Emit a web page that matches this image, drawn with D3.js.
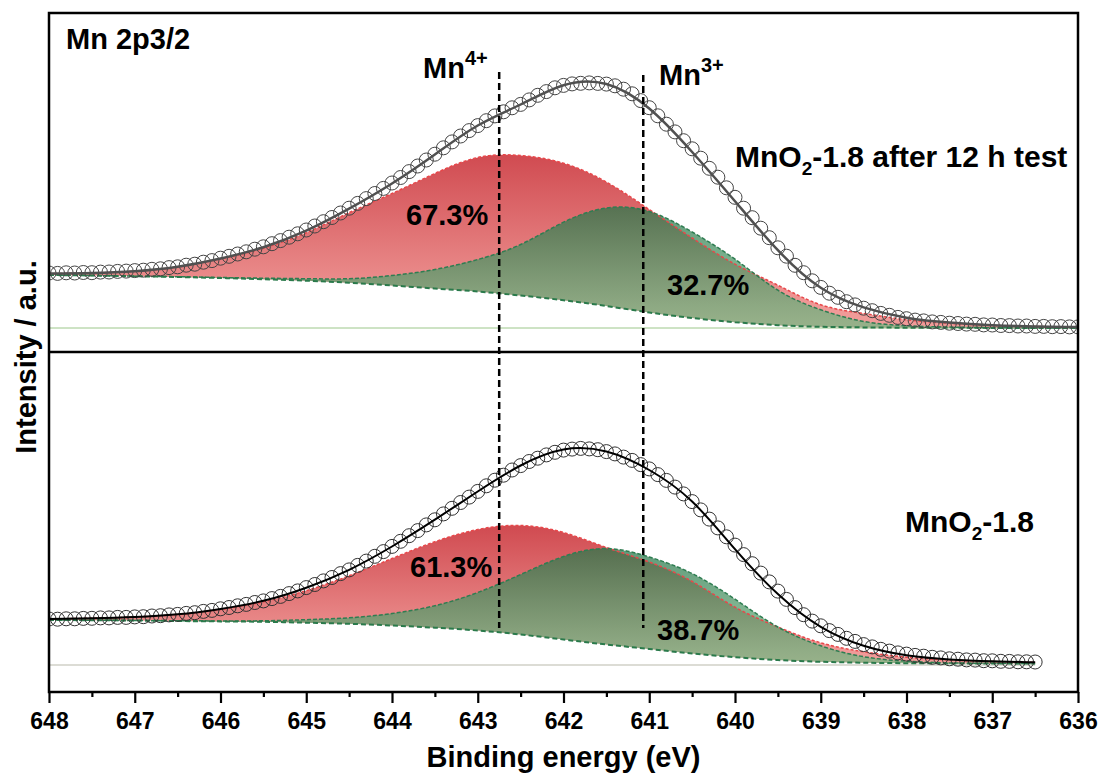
<!DOCTYPE html>
<html>
<head>
<meta charset="utf-8">
<script src="https://cdn.jsdelivr.net/npm/d3@7"></script>
<style>
body { margin: 0; background: #fff; }
text { font-family: "Liberation Sans", Arial, sans-serif; font-weight: bold; fill: #000; }
</style>
</head>
<body>
<svg id="chart" width="1102" height="776"></svg>
<script>
// fit grid (eV), every 0.5 eV
const fitEnergy = [648, 647.5, 647, 646.5, 646, 645.5, 645, 644.5, 644, 643.5, 643, 642.5,
    642, 641.5, 641, 640.5, 640, 639.5, 639, 638.5, 638, 637.5, 637, 636.5, 636];

// top panel: MnO2-1.8 after 12 h test
const bgTop = [53, 52.5, 51.8, 51, 50, 48.8, 47.3, 45.3, 42.5, 39.5, 36.5, 32.5,
    27.8, 22, 15.5, 10, 5.8, 2.8, 1.2, 0.6, 0.3, 0.2, 0.1, 0, 0];
const mn4Top = [1.5, 2.5, 5, 10, 19, 31, 48, 70, 92, 115, 134, 140,
    137, 124, 103, 80, 58, 40, 22, 14, 8, 4.5, 2.5, 1.5, 1];
const mn3Top = [0, 0, 0, 0.3, 0.5, 1, 2, 4, 10, 19, 32, 51,
    78, 98, 101, 86, 63, 35, 17, 6, 2, 0.7, 0.2, 0, 0];
// measured points, 648 -> 636 eV, step 0.1
const dataTop = [
    55, 54.6, 55.2, 55, 55.5, 55.3, 55.9, 56, 56.6, 56.9,
    57.4, 57.8, 58.7, 59.2, 60.4, 61.2, 62.8, 63.8, 65.8, 67.4,
    69.8, 71.7, 74, 76.2, 78.8, 81.2, 84.3, 87.4, 90.8, 94.2,
    98, 102, 106.3, 110.5, 115, 119.8, 124.6, 129.4, 134.5, 139.6,
    145, 150.5, 156.4, 162, 168, 173.8, 180.2, 186.1, 192, 197.4,
    202.4, 207.3, 212.1, 216.2, 220.2, 223.6, 228.1, 232.7, 236.4, 240.2,
    242.6, 244.1, 244.7, 245.1, 244.6, 243.9, 242.2, 238.8, 234.2, 227.4,
    220.3, 212.2, 203.8, 196.1, 187.3, 179.2, 169.8, 159.7, 150.8, 140.2,
    130.7, 119.8, 110.3, 99.8, 90.3, 80.2, 71.8, 62.7, 55.3, 47.2,
    40.6, 34.8, 30.7, 26.3, 23.1, 19.8, 17.3, 14.6, 12.7, 10.6,
    9.3, 7.9, 7.1, 6.1, 5.6, 4.8, 4.5, 3.9, 3.7, 3.1,
    3, 2.5, 2.4, 2, 2, 1.6, 1.6, 1.3, 1.4, 1.1,
    1.1];

// bottom panel: MnO2-1.8
const bgBot = [45, 44.8, 44.5, 44, 43.6, 43.2, 42.3, 41.2, 39.5, 37.3, 34.5, 30.5,
    25.5, 20.5, 16, 11.5, 7.8, 5, 3.2, 2.3, 1.8, 1.6, 1.5, 1.5];
const mn4Bot = [1, 2, 3.5, 6.5, 12, 20, 32, 48, 67, 86, 101, 109,
    107, 97, 87, 72, 50, 33, 19, 11, 6, 3.5, 2, 1.2];
const mn3Bot = [0, 0, 0, 0.2, 0.5, 1, 3, 6, 12, 22, 38, 60,
    83, 96, 92, 80, 58, 33, 16, 6, 2, 0.5, 0.2, 0];
// measured points, 648 -> 636.5 eV, step 0.1
const dataBot = [
    46, 45.8, 46.2, 46.2, 46.6, 46.7, 47.1, 47.1, 47.6, 47.6,
    48.1, 48.3, 49, 49.3, 50.1, 50.6, 51.6, 52.3, 53.6, 54.6,
    56.2, 57.5, 59.2, 60.6, 62.5, 64.1, 66.4, 68.6, 71.4, 74.1,
    77.4, 80.5, 84.1, 87.5, 91.4, 95.1, 99.6, 103.9, 108.7, 113.4,
    118.6, 123.7, 129.3, 134.4, 140.1, 145.2, 151.1, 156.7, 162.5, 167.9,
    173.6, 179.2, 184.8, 189.8, 195, 199.4, 203.5, 206.8, 210.1, 212.7,
    214.9, 215.9, 216.6, 216.1, 215.3, 213.4, 211.1, 207.9, 204.6, 200.4,
    196.1, 190.4, 184.6, 177.9, 171.1, 163.4, 155.1, 145.9, 137.1, 128.2,
    119.9, 110.4, 101.3, 91.9, 83.1, 73.9, 65.6, 57.4, 50.3, 43.9,
    39.2, 34.4, 30.6, 26.7, 23.6, 20.4, 18.1, 15.7, 13.9, 12.1,
    10.9, 9.6, 8.8, 7.7, 7.1, 6.2, 5.8, 5.1, 4.9, 4.3,
    4.2, 3.7, 3.6, 3.2, 3.2, 3];

const peakLines = [
    {name: "Mn", sup: "4+", energy: 642.75},
    {name: "Mn", sup: "3+", energy: 641.07}
];
const xTicks = [648, 647, 646, 645, 644, 643, 642, 641, 640, 639, 638, 637, 636];

const svg = d3.select("#chart");
const frameL = 49, frameR = 1078, frameT = 13, frameB = 692, divider = 352;

const x = d3.scaleLinear().domain([648, 636]).range([frameL, frameR]);

const panels = [
    {
        id: "top", data: dataTop, bg: bgTop, mn4: mn4Top, mn3: mn3Top,
        y: d3.scaleLinear().domain([0, 300]).range([328, 28]),
        baseColor: "#9cc78a", envColor: "#505050", circleColor: "#444", envWidth: 2.5,
        label: "-1.8 after 12 h test", labelX: 735, labelY: 167,
        pct4: "67.3%", pct4X: 406, pct4Y: 225, pct3: "32.7%", pct3X: 667, pct3Y: 295,
        redGrad: [175, 20], greenGrad: [122, 5]
    },
    {
        id: "bot", data: dataBot, bg: bgBot, mn4: mn4Bot, mn3: mn3Bot,
        y: d3.scaleLinear().domain([0, 300]).range([665, 365]),
        baseColor: "#b9b9ab", envColor: "#000", circleColor: "#333", envWidth: 2,
        label: "-1.8", labelX: 905, labelY: 532,
        pct4: "61.3%", pct4X: 410, pct4Y: 577, pct3: "38.7%", pct3X: 657, pct3Y: 640,
        redGrad: [140, 15], greenGrad: [118, 5]
    }
];

const defs = svg.append("defs");
defs.append("clipPath").attr("id", "plotClip")
    .append("rect")
    .attr("x", frameL).attr("y", frameT)
    .attr("width", frameR - frameL).attr("height", frameB - frameT);

function addGradient(id, y1, y2, c1, c2, op1, op2) {
    const g = defs.append("linearGradient")
        .attr("id", id)
        .attr("gradientUnits", "userSpaceOnUse")
        .attr("x1", 0).attr("x2", 0)
        .attr("y1", y1).attr("y2", y2);
    g.append("stop").attr("offset", "0%").attr("stop-color", c1).attr("stop-opacity", op1);
    g.append("stop").attr("offset", "100%").attr("stop-color", c2).attr("stop-opacity", op2);
}

const plot = svg.append("g").attr("clip-path", "url(#plotClip)");

panels.forEach(p => {
    const y = p.y;
    const n = p.bg.length;
    const fit = p.bg.map((b, i) => ({
        e: fitEnergy[i], bg: b, mn4: p.mn4[i], mn3: p.mn3[i]
    }));
    const points = p.data.map((v, i) => ({e: Math.round((648 - i * 0.1) * 10) / 10, v: v}));
    const lastE = fitEnergy[n - 1];

    addGradient("red-" + p.id, y(p.redGrad[0]), y(p.redGrad[1]), "#d04a50", "#f09a98", 1, 1);
    addGradient("green-" + p.id, y(p.greenGrad[0]), y(p.greenGrad[1]), "#28764a", "#76b884", 0.74, 0.74);

    // zero line
    plot.append("line")
        .attr("x1", frameL).attr("x2", x(lastE))
        .attr("y1", y(0)).attr("y2", y(0))
        .attr("stroke", p.baseColor).attr("stroke-width", 1);

    const area = key => d3.area()
        .x(d => x(d.e))
        .y0(d => y(d.bg))
        .y1(d => y(d.bg + d[key]))
        .curve(d3.curveNatural);
    const edge = key => d3.line()
        .x(d => x(d.e))
        .y(d => y(d.bg + d[key]))
        .curve(d3.curveNatural);

    plot.append("path").datum(fit)
        .attr("d", area("mn4"))
        .attr("fill", `url(#red-${p.id})`);
    plot.append("path").datum(fit)
        .attr("d", area("mn3"))
        .attr("fill", `url(#green-${p.id})`);

    plot.append("path").datum(fit)
        .attr("d", edge("mn4"))
        .attr("fill", "none").attr("stroke", "#e8474a")
        .attr("stroke-width", 1.5).attr("stroke-dasharray", "3,2");
    plot.append("path").datum(fit)
        .attr("d", edge("mn3"))
        .attr("fill", "none").attr("stroke", "#2f7d52")
        .attr("stroke-width", 1.5).attr("stroke-dasharray", "4,2");

    // background
    plot.append("path").datum(fit)
        .attr("d", d3.line().x(d => x(d.e)).y(d => y(d.bg)).curve(d3.curveNatural))
        .attr("fill", "none").attr("stroke", "#2a7a4b")
        .attr("stroke-width", 2).attr("stroke-dasharray", "5,3");

    // data points
    plot.append("g").selectAll("circle")
        .data(points)
        .join("circle")
        .attr("cx", d => x(d.e))
        .attr("cy", d => y(d.v))
        .attr("r", 7)
        .attr("fill", "none")
        .attr("stroke", p.circleColor)
        .attr("stroke-width", 1);

    // envelope
    plot.append("path").datum(fit)
        .attr("d", d3.line().x(d => x(d.e)).y(d => y(d.bg + d.mn4 + d.mn3)).curve(d3.curveNatural))
        .attr("fill", "none").attr("stroke", p.envColor)
        .attr("stroke-width", p.envWidth);

    // sample label
    const t = svg.append("text")
        .attr("x", p.labelX).attr("y", p.labelY)
        .attr("font-size", 30);
    t.append("tspan").text("MnO");
    t.append("tspan").attr("font-size", 19).attr("dy", 8).text("2");
    t.append("tspan").attr("dy", -8).text(p.label);

    svg.append("text").attr("x", p.pct4X).attr("y", p.pct4Y)
        .attr("font-size", 29).text(p.pct4);
    svg.append("text").attr("x", p.pct3X).attr("y", p.pct3Y)
        .attr("font-size", 29).text(p.pct3);
});

// dashed peak markers
const markerTop = [72, 75];
const markerLabel = [{x: 423, y: 78}, {x: 659, y: 85}];
peakLines.forEach((m, i) => {
    svg.append("line")
        .attr("x1", x(m.energy)).attr("x2", x(m.energy))
        .attr("y1", markerTop[i]).attr("y2", 628)
        .attr("stroke", "#000").attr("stroke-width", 2.5)
        .attr("stroke-dasharray", "7,4");
    const t = svg.append("text")
        .attr("x", markerLabel[i].x).attr("y", markerLabel[i].y)
        .attr("font-size", 29);
    t.append("tspan").text(m.name);
    t.append("tspan").attr("font-size", 20).attr("dy", -13).text(m.sup);
});

// frame
svg.append("rect")
    .attr("x", frameL).attr("y", frameT)
    .attr("width", frameR - frameL).attr("height", frameB - frameT)
    .attr("fill", "none").attr("stroke", "#000").attr("stroke-width", 2.5);
svg.append("line")
    .attr("x1", frameL).attr("x2", frameR)
    .attr("y1", divider).attr("y2", divider)
    .attr("stroke", "#000").attr("stroke-width", 2.5);

svg.append("text")
    .attr("x", 66).attr("y", 49)
    .attr("font-size", 29)
    .text("Mn 2p3/2");

// x axis
const xAxis = svg.append("g")
    .attr("transform", `translate(0,${frameB})`)
    .call(d3.axisBottom(x).tickValues(xTicks).tickSize(11).tickPadding(10).tickFormat(d3.format("d")));
xAxis.select(".domain").remove();
xAxis.selectAll(".tick line").attr("stroke-width", 2.2);
xAxis.selectAll(".tick text")
    .attr("font-size", 23)
    .attr("font-family", "'Liberation Sans', Arial, sans-serif")
    .attr("fill", "#000");

const minor = svg.append("g")
    .attr("transform", `translate(0,${frameB})`)
    .call(d3.axisBottom(x).tickValues(xTicks.slice(1).map(v => v + 0.5)).tickSize(5).tickFormat(""));
minor.select(".domain").remove();
minor.selectAll(".tick line").attr("stroke-width", 2.2);

svg.append("text")
    .attr("x", (frameL + frameR) / 2).attr("y", 767)
    .attr("text-anchor", "middle")
    .attr("font-size", 29)
    .text("Binding energy (eV)");

svg.append("text")
    .attr("transform", "translate(36,357) rotate(-90)")
    .attr("text-anchor", "middle")
    .attr("font-size", 29)
    .text("Intensity / a.u.");
</script>
</body>
</html>
